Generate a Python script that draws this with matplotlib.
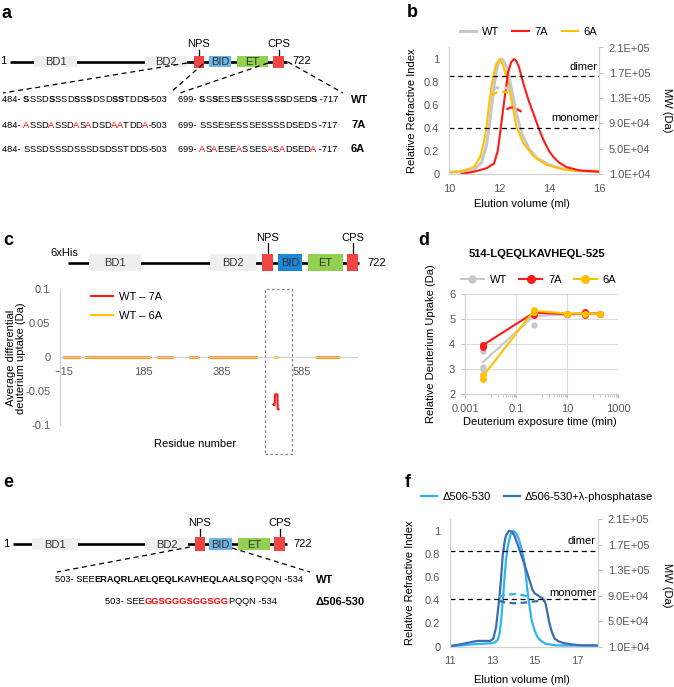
import matplotlib
matplotlib.use('Agg')
import matplotlib.pyplot as plt
from matplotlib.patches import Rectangle
from matplotlib.lines import Line2D

plt.rcParams['font.family'] = ['Liberation Sans', 'DejaVu Sans']

# ---------------- data ----------------
# b: SEC, relative refractive index vs elution volume (ml)
b_wt_x = [10.0, 10.5, 11.0, 11.3, 11.5, 11.6, 11.7, 11.8, 11.9, 12.0, 12.1, 12.2, 12.3, 12.4, 12.5, 12.6, 12.7, 12.9, 13.2, 13.5, 14.0, 14.5, 15.0, 15.5, 16.0]
b_wt_y = [0.015, 0.02, 0.04, 0.1, 0.25, 0.4, 0.58, 0.76, 0.9, 0.98, 1.0, 0.98, 0.93, 0.84, 0.74, 0.63, 0.52, 0.36, 0.22, 0.14, 0.08, 0.045, 0.03, 0.025, 0.02]
b_7a_x = [10.5, 11.0, 11.5, 11.8, 11.95, 12.1, 12.2, 12.36, 12.48, 12.6, 12.7, 12.8, 12.97, 13.2, 13.37, 13.6, 13.77, 14.0, 14.17, 14.4, 14.7, 15.24, 16.0]
b_7a_y = [0.0, 0.02, 0.05, 0.09, 0.2, 0.45, 0.62, 0.88, 0.97, 1.0, 0.98, 0.93, 0.79, 0.63, 0.53, 0.39, 0.3, 0.2, 0.15, 0.1, 0.06, 0.03, 0.02]
b_6a_x = [10.0, 10.5, 11.0, 11.25, 11.4, 11.5, 11.6, 11.7, 11.8, 11.9, 12.04, 12.15, 12.3, 12.5, 12.7, 12.97, 13.4, 13.9, 14.7, 15.5, 15.9, 16.0]
b_6a_y = [0.015, 0.025, 0.06, 0.15, 0.28, 0.41, 0.6, 0.76, 0.88, 0.96, 1.0, 0.95, 0.85, 0.64, 0.41, 0.27, 0.15, 0.08, 0.035, 0.025, 0.03, 0.02]
# b: MALS molar mass across the peak (Da)
b_wt_mw_x = [11.7, 11.9, 12.1, 12.3, 12.5, 12.64]
b_wt_mw = [1.42e5, 1.46e5, 1.47e5, 1.46e5, 1.43e5, 1.40e5]
b_7a_mw_x = [12.3, 12.45, 12.57, 12.75, 12.9]
b_7a_mw = [1.12e5, 1.15e5, 1.155e5, 1.12e5, 1.085e5]
b_6a_mw_x = [11.7, 11.9, 12.1, 12.3, 12.5]
b_6a_mw = [1.35e5, 1.39e5, 1.40e5, 1.395e5, 1.365e5]
b_dimer, b_monomer = 0.85, 0.40

# c: average differential deuterium uptake per peptide (residue ranges)
c_pep_start = [-18, 38, 220, 242, 300, 351, 621]
c_pep_end = [25, 202, 240, 260, 323, 472, 679]
c_pep_val = [0, 0, 0, 0, 0, 0, 0]
c_6a_extra_start = [512]
c_6a_extra_end = [527]
c_6a_extra_val = [0]
c_7a_bid_x = [514, 516, 517, 518, 524, 525, 527]
c_7a_bid_y = [-0.070, -0.071, -0.071, -0.055, -0.055, -0.077, -0.077]

# d: deuterium uptake of 514-LQEQLKAVHEQL-525
d_time = [0.005, 0.5, 10, 50, 200]
d_wt_mean = [3.27, 5.13, 5.17, 5.2, 5.2]
d_7a_mean = [3.95, 5.25, 5.2, 5.22, 5.22]
d_6a_mean = [2.7, 5.33, 5.22, 5.22, 5.2]
d_wt_rep_t = [0.005, 0.005, 0.005, 0.5, 0.5, 10, 50, 200]
d_wt_rep = [3.72, 3.1, 3.0, 5.15, 4.75, 5.17, 5.2, 5.2]
d_7a_rep_t = [0.005, 0.005, 0.5, 0.5, 10, 50, 50, 200]
d_7a_rep = [3.98, 3.9, 5.33, 5.15, 5.2, 5.27, 5.17, 5.22]
d_6a_rep_t = [0.005, 0.005, 0.5, 0.5, 10, 50, 200]
d_6a_rep = [2.78, 2.6, 5.37, 5.3, 5.22, 5.22, 5.2]

# f: SEC of the BID deletion
f_del_x = [11.0, 11.5, 12.0, 12.5, 13.0, 13.15, 13.26, 13.35, 13.42, 13.5, 13.57, 13.65, 13.73, 13.85, 14.0, 14.15, 14.27, 14.4, 14.5, 14.58, 14.66, 14.76, 14.86, 15.0, 15.13, 15.3, 15.52, 16.0, 16.5, 17.0, 18.0]
f_del_y = [0.005, 0.01, 0.02, 0.025, 0.03, 0.04, 0.06, 0.12, 0.23, 0.4, 0.575, 0.75, 0.86, 0.96, 1.0, 0.97, 0.92, 0.83, 0.75, 0.63, 0.49, 0.35, 0.23, 0.14, 0.086, 0.05, 0.025, 0.012, 0.01, 0.01, 0.01]
f_lam_x = [11.0, 11.5, 12.0, 12.3, 12.6, 12.9, 13.05, 13.18, 13.26, 13.34, 13.42, 13.49, 13.57, 13.65, 13.8, 13.92, 14.04, 14.2, 14.35, 14.5, 14.66, 14.8, 14.9, 15.0, 15.13, 15.25, 15.36, 15.45, 15.52, 15.6, 15.67, 15.75, 15.83, 15.95, 16.14, 16.4, 16.75, 17.2, 18.0]
f_lam_y = [0.005, 0.02, 0.04, 0.05, 0.05, 0.05, 0.07, 0.17, 0.3, 0.43, 0.6, 0.78, 0.89, 0.96, 1.0, 0.99, 0.96, 0.88, 0.80, 0.72, 0.63, 0.55, 0.49, 0.46, 0.445, 0.43, 0.42, 0.40, 0.37, 0.30, 0.23, 0.17, 0.12, 0.07, 0.045, 0.03, 0.02, 0.012, 0.01]
f_del_mw_x = [13.3, 13.6, 14.0, 14.4, 14.7]
f_del_mw = [8.75e4, 9.1e4, 9.25e4, 9.1e4, 8.84e4]
f_lam_mw_x = [13.3, 13.6, 14.0, 14.5, 15.0, 15.5]
f_lam_mw = [8.2e4, 7.95e4, 7.8e4, 7.9e4, 8.1e4, 8.2e4]
f_dimer, f_monomer = 0.825, 0.41

ri_ticks = [0, 0.2, 0.4, 0.6, 0.8, 1]
ri_labels = ['0', '0.2', '0.4', '0.6', '0.8', '1']
mw_ticks = [1e4, 5e4, 9e4, 1.3e5, 1.7e5, 2.1e5]

# sequences (a): NPS 484-503 and CPS 699-717
a_wt_nps = 'SSSDSSSDSSSDSDSSTDDS'
a_7a_nps = 'ASSDASSDASADSDAATDDA'
a_wt_cps = 'SSSESESSSESSSSDSEDS'
a_6a_cps = 'ASAESEASSESASADSEDA'
a_sites_nps = [0, 4, 8, 10, 14, 15, 19]
a_sites_cps = [0, 2, 6, 11, 13, 18]
e_wt = ['SEE', 'ERAQRLAELQEQLKAVHEQLAALSQ', 'PQQN']
e_del = ['SEE', 'GGSGGGSGGSGG', 'PQQN']

GRAY, RED, YEL = '#c8c8c8', '#ff1a1a', '#ffc000'
LBLUE, DBLUE = '#2db4f2', '#3a6cb4'
TICK = '#595959'
SPINE = '#d0d0d0'

# ---------------- figure ----------------
W, H = 674, 687
fig = plt.figure(figsize=(W / 100, H / 100), dpi=100)
ov = fig.add_axes([0, 0, 1, 1])
ov.set_xlim(0, W)
ov.set_ylim(H, 0)
ov.axis('off')
R = fig.canvas.get_renderer()


def axbox(l, t, r, b):
    ax = fig.add_axes([l / W, 1 - b / H, (r - l) / W, (b - t) / H])
    ax.set_facecolor('none')
    return ax


def tw(s, **kw):
    t = ov.text(0, 0, s, **kw)
    w = t.get_window_extent(renderer=R).width
    t.remove()
    return w


def rich(x, y, parts, size=6.7):
    for s, bold, col in parts:
        kw = dict(fontsize=size, fontweight='bold' if bold else 'normal')
        ov.text(x, y, s, color=col, ha='left', va='center', **kw)
        x += tw('|' + s + '|', **kw) - tw('||', **kw)


def seq_parts(pre, seq, post, sites, bold, col):
    parts = [(pre, False, 'k')]
    for i, ch in enumerate(seq):
        parts.append((ch, bold, col) if i in sites else (ch, False, 'k'))
    parts.append((post, False, 'k'))
    return parts


def domain(y, x0, x1, boxes):
    ov.plot([x0, x1], [y, y], color='k', lw=1.9, solid_capstyle='butt', zorder=2)
    for x, w, h, fc, txt in boxes:
        ov.add_patch(Rectangle((x, y - h / 2), w, h, fc=fc, ec='none', zorder=3))
        if txt:
            ov.text(x + w / 2, y + 0.5, txt, ha='center', va='center', fontsize=8,
                    color='#333333', zorder=4)


def site_label(x, ylab, y0, y1, txt):
    ov.text(x, ylab, txt, ha='center', va='center', fontsize=8)
    ov.plot([x, x], [y0, y1], color='k', lw=0.9)


def dashed(p0, p1):
    ov.plot([p0[0], p1[0]], [p0[1], p1[1]], color='k', lw=0.9, ls=(0, (4, 3)), zorder=5)


BD, NRED, GRN = '#efefef', '#f04545', '#92d050'

# panel letters
for txt, x, y in [('a', 2, 18), ('b', 407, 17), ('c', 3, 245), ('d', 418, 245),
                  ('e', 3, 487), ('f', 405, 487)]:
    ov.text(x, y, txt, fontsize=13, fontweight='bold', va='baseline', ha='left')

# ---------------- a ----------------
ya = 61.5
ov.text(0, ya, '1', ha='left', va='center', fontsize=8)
domain(ya, 10, 287, [(34, 43, 10.5, BD, 'BD1'), (145, 42, 10.5, BD, 'BD2'),
                     (194, 9.5, 12, NRED, ''), (209, 22, 11, '#6cb4e6', 'BID'),
                     (237, 31, 11, GRN, 'ET'), (273, 11, 12, NRED, '')])
ov.text(292, ya, '722', ha='left', va='center', fontsize=8)
site_label(198.75, 44, 50, 55.5, 'NPS')
site_label(278.5, 44, 50, 55.5, 'CPS')
dashed((187, 63), (3, 93))
dashed((203, 64), (170, 93))
dashed((268, 63), (180, 93))
dashed((288, 62), (343, 93))

# (row y, NPS seq, marked NPS sites, CPS seq, marked CPS sites, bold, colour, label)
rows = [(100, a_wt_nps, a_sites_nps, a_wt_cps, a_sites_cps, True, 'k', 'WT'),
        (125, a_7a_nps, a_sites_nps, a_wt_cps, [], False, '#ff0000', '7A'),
        (149, a_wt_nps, [], a_6a_cps, a_sites_cps, False, '#ff0000', '6A')]
for y, q1, s1, q2, s2, bold, col, lab in rows:
    rich(2, y, seq_parts('484- ', q1, '-503', s1, bold, col))
    rich(178, y, seq_parts('699- ', q2, ' -717', s2, bold, col))
    ov.text(351, y, lab, fontsize=8, fontweight='bold', ha='left', va='center')

# ---------------- b / f : SEC axes ----------------


def sec_axes(l, t, r, b, xlim, xticks):
    ax = axbox(l, t, r, b)
    ax.set_xlim(*xlim)
    ax.set_ylim(0, 1.1)
    ax.set_xticks(xticks)
    ax.set_yticks(ri_ticks)
    ax.set_yticklabels(ri_labels)
    ax.spines['top'].set_visible(False)
    for s in ['left', 'bottom', 'right']:
        ax.spines[s].set_color(SPINE)
    ax.tick_params(length=0, labelsize=8, labelcolor=TICK, pad=7)
    ax2 = ax.twinx()
    ax2.set_ylim(1e4, 2.1e5)
    ax2.set_yticks(mw_ticks)
    ax2.set_yticklabels(['%.1E' % v for v in mw_ticks])
    ax2.spines['top'].set_visible(False)
    for s in ['left', 'bottom', 'right']:
        ax2.spines[s].set_color(SPINE)
    ax2.tick_params(length=3, color='#bfbfbf', labelsize=8, labelcolor=TICK, pad=4)
    return ax, ax2


axb, axb2 = sec_axes(449, 47.5, 599, 174, (10, 16), [10, 12, 14, 16])
l_wt, = axb.plot(b_wt_x, b_wt_y, color=GRAY, lw=2.2)
l_6a, = axb.plot(b_6a_x, b_6a_y, color=YEL, lw=1.5)
l_7a, = axb.plot(b_7a_x, b_7a_y, color=RED, lw=1.5)
for yv in [b_dimer, b_monomer]:
    axb.axhline(yv, color='k', lw=0.9, ls=(0, (4, 3)))
axb2.plot(b_wt_mw_x, b_wt_mw, color=GRAY, lw=2, ls=(0, (3, 2)))
axb2.plot(b_6a_mw_x, b_6a_mw, color=YEL, lw=1.6, ls=(0, (3, 2)))
axb2.plot(b_7a_mw_x, b_7a_mw, color=RED, lw=1.6, ls=(0, (3, 2)))
axb.legend([l_wt, l_7a, l_6a], ['WT', '7A', '6A'], ncol=3, loc='center',
           bbox_to_anchor=(0.53, 1.12), frameon=False, fontsize=8, handlelength=1.5,
           handletextpad=0.5, columnspacing=1.2)
ov.text(598, 67, 'dimer', ha='right', va='center', fontsize=8)
ov.text(599, 118, 'monomer', ha='right', va='center', fontsize=8)
ov.text(412, 111, 'Relative Refractive Index', rotation=90, ha='center', va='center', fontsize=8)
ov.text(667, 110, 'MW (Da)', rotation=270, ha='center', va='center', fontsize=8)
ov.text(522, 204, 'Elution volume (ml)', ha='center', va='center', fontsize=8)

# ---------------- c ----------------
yc = 262.7
ov.text(50, 252.5, '6xHis', ha='left', va='center', fontsize=8)
domain(yc, 68, 359, [(89, 52, 16.5, BD, 'BD1'), (210, 46, 16.5, BD, 'BD2'),
                     (262, 11, 17, NRED, ''), (278, 24, 16.5, '#1b87d8', 'BID'),
                     (308, 35, 16.5, GRN, 'ET'), (347, 11, 17, NRED, '')])
ov.text(367, yc, '722', ha='left', va='center', fontsize=8)
site_label(267.5, 238, 243, 254, 'NPS')
site_label(352.5, 238, 243, 254, 'CPS')

axc = axbox(60, 289, 357, 425)
axc.set_xlim(-25, 725)
axc.set_ylim(-0.1, 0.1)
axc.hlines(c_pep_val, c_pep_start, c_pep_end, color=RED, lw=2.2)
axc.hlines(c_pep_val, c_pep_start, c_pep_end, color=YEL, lw=2.2, alpha=0.75)
axc.hlines(c_6a_extra_val, c_6a_extra_start, c_6a_extra_end, color=YEL, lw=1.8)
axc.plot(c_7a_bid_x, c_7a_bid_y, color=RED, lw=1.5)
axc.set_xticks([-15, 185, 385, 585])
axc.set_yticks([-0.1, -0.05, 0, 0.05, 0.1])
axc.set_yticklabels(['-0.1', '-0.05', '0', '0.05', '0.1'])
axc.spines['bottom'].set_position(('data', 0))
axc.spines['top'].set_visible(False)
axc.spines['right'].set_visible(False)
for s in ['left', 'bottom']:
    axc.spines[s].set_color(SPINE)
axc.tick_params(length=0, labelsize=8, labelcolor=TICK, pad=7)
axc.add_patch(Rectangle((492, -0.143), 68, 0.243, fill=False, ec='#808080', lw=0.9,
                        ls=(0, (2, 2)), clip_on=False))
axc.legend([Line2D([], [], color=RED, lw=1.5), Line2D([], [], color=YEL, lw=1.5)],
           ['WT – 7A', 'WT – 6A'], loc='upper left', bbox_to_anchor=(0.085, 1.02),
           borderpad=0, frameon=False, fontsize=8, handlelength=2.0, handletextpad=0.5,
           labelspacing=0.85)
ov.text(16, 358, 'Average differential\ndeuterium uptake (Da)', rotation=90, ha='center',
        va='center', fontsize=8, linespacing=1.1)
ov.text(195, 444, 'Residue number', ha='center', va='center', fontsize=8)

# ---------------- d ----------------
axd = axbox(465, 294, 618, 394)
axd.set_xscale('log')
axd.set_xlim(1e-3, 1e3)
axd.set_ylim(2, 6)
axd.set_xticks([1e-3, 1e-1, 1e1, 1e3])
axd.set_xticklabels(['0.001', '0.1', '10', '1000'])
axd.set_xticks([k * 10.0 ** p for p in (-2, 0, 2) for k in range(1, 10)], minor=True)
axd.set_xticklabels([], minor=True)
axd.set_yticks([2, 3, 4, 5, 6])
axd.grid(True, which='major', color='#dcdcdc', lw=0.8)
axd.set_axisbelow(True)
axd.spines['top'].set_visible(False)
axd.spines['right'].set_visible(False)
for s in ['left', 'bottom']:
    axd.spines[s].set_color(SPINE)
axd.tick_params(which='major', length=3, color='#bfbfbf', labelsize=8, labelcolor=TICK, pad=4)
axd.tick_params(which='minor', length=2, color='#bfbfbf')
axd.plot(d_time, d_wt_mean, color=GRAY, lw=1.5)
axd.plot(d_wt_rep_t, d_wt_rep, ls='none', marker='o', ms=3.5, color=GRAY)
axd.plot(d_time, d_7a_mean, color=RED, lw=1.5)
axd.plot(d_7a_rep_t, d_7a_rep, ls='none', marker='o', ms=4, color=RED)
axd.plot(d_time, d_6a_mean, color=YEL, lw=1.5)
axd.plot(d_6a_rep_t, d_6a_rep, ls='none', marker='o', ms=4, color=YEL)
axd.legend([Line2D([], [], color=GRAY, lw=1.5, marker='o', ms=5),
            Line2D([], [], color=RED, lw=1.5, marker='o', ms=5.5),
            Line2D([], [], color=YEL, lw=1.5, marker='o', ms=5.5)],
           ['WT', '7A', '6A'], ncol=3, loc='center', bbox_to_anchor=(0.48, 1.14),
           frameon=False, fontsize=8, handlelength=2.1, handletextpad=0.5,
           columnspacing=1.1)
ov.text(537, 254, '514-LQEQLKAVHEQL-525', ha='center', va='center', fontsize=8,
        fontweight='bold')
ov.text(431, 344, 'Relative Deuterium Uptake (Da)', rotation=90, ha='center', va='center',
        fontsize=8)
ov.text(540, 422, 'Deuterium exposure time (min)', ha='center', va='center', fontsize=8)

# ---------------- e ----------------
ye = 544
ov.text(3, ye, '1', ha='left', va='center', fontsize=8)
domain(ye, 13, 287, [(32, 46, 12, BD, 'BD1'), (145, 43, 12, BD, 'BD2'),
                     (195, 9.5, 14, NRED, ''), (209, 23, 12, '#6cb4e6', 'BID'),
                     (238, 32, 12, GRN, 'ET'), (274, 11, 14, NRED, '')])
ov.text(293, ye, '722', ha='left', va='center', fontsize=8)
site_label(199.75, 523, 529, 537, 'NPS')
site_label(279.5, 523, 529, 537, 'CPS')
dashed((190, 547), (57, 572))
dashed((232, 548), (310, 572))
rich(55, 580, [('503- ' + e_wt[0], False, 'k'), (e_wt[1], True, 'k'),
               (e_wt[2] + ' -534', False, 'k')])
ov.text(316, 580, 'WT', fontsize=8, fontweight='bold', ha='left', va='center')
rich(105, 602, [('503- ' + e_del[0], False, 'k'), (e_del[1], True, '#ff0000'),
                (e_del[2] + ' -534', False, 'k')])
ov.text(316, 602, 'Δ506-530', fontsize=8, fontweight='bold', ha='left', va='center')

# ---------------- f ----------------
axf, axf2 = sec_axes(450, 519, 598, 646.7, (11, 18), [11, 13, 15, 17])
l_del, = axf.plot(f_del_x, f_del_y, color=LBLUE, lw=1.6)
l_lam, = axf.plot(f_lam_x, f_lam_y, color=DBLUE, lw=1.6)
for yv in [f_dimer, f_monomer]:
    axf.axhline(yv, color='k', lw=0.9, ls=(0, (4, 3)))
axf2.plot(f_del_mw_x, f_del_mw, color=LBLUE, lw=1.6, ls=(0, (3, 2)))
axf2.plot(f_lam_mw_x, f_lam_mw, color=DBLUE, lw=1.6, ls=(0, (3, 2)))
axf.legend([l_del, l_lam], ['Δ506-530', 'Δ506-530+λ-phosphatase'], ncol=2, loc='center',
           bbox_to_anchor=(0.59, 1.172), frameon=False, fontsize=8, handlelength=1.4,
           handletextpad=0.5, columnspacing=1.2)
ov.text(596, 541, 'dimer', ha='right', va='center', fontsize=8)
ov.text(597, 593, 'monomer', ha='right', va='center', fontsize=8)
ov.text(410, 583, 'Relative Refractive Index', rotation=90, ha='center', va='center', fontsize=8)
ov.text(667, 585, 'MW (Da)', rotation=270, ha='center', va='center', fontsize=8)
ov.text(522, 680, 'Elution volume (ml)', ha='center', va='center', fontsize=8)

fig.savefig('out.png', dpi=100)
